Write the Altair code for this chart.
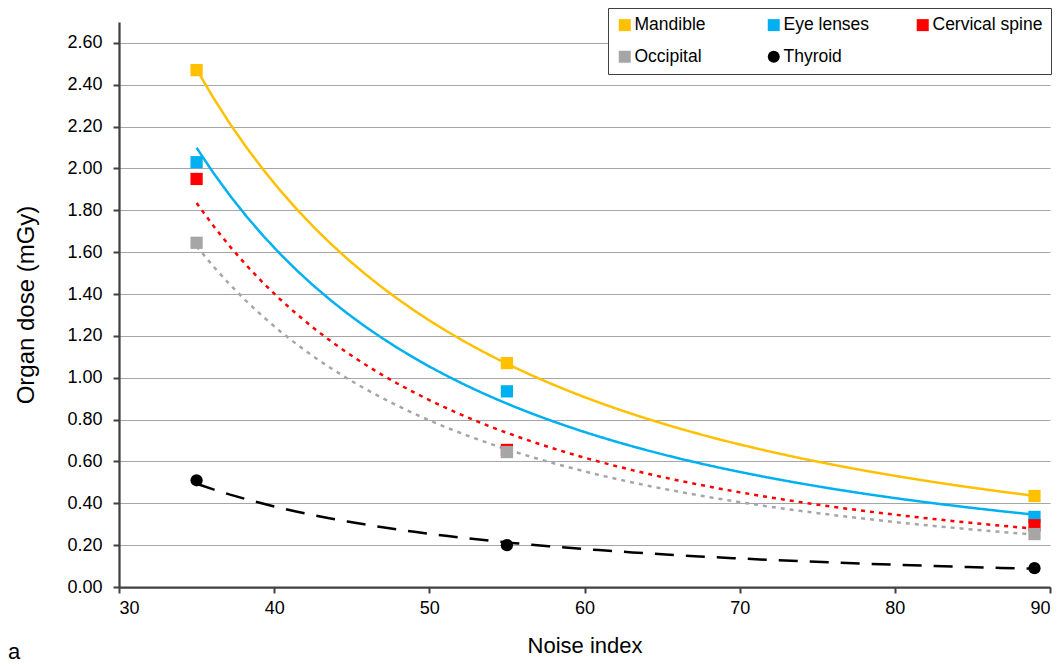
import altair as alt
import pandas as pd

noise = [35, 55, 89]
organs = ["Mandible", "Eye lenses", "Cervical spine", "Occipital", "Thyroid"]
mandible = [2.47, 1.07, 0.435]
eye_lenses = [2.03, 0.935, 0.335]
cervical = [1.95, 0.655, 0.295]
occipital = [1.645, 0.645, 0.253]
thyroid = [0.51, 0.20, 0.09]

colors = ["#FFC000", "#00B0F0", "#FF0000", "#A6A6A6", "#000000"]
shapes = ["square", "square", "square", "square", "circle"]
dashes = [[1, 0], [1, 0], [4, 5], [4, 5], [19, 12]]
y_ticks = [round(0.2 * i, 1) for i in range(14)]
x_ticks = [30, 40, 50, 60, 70, 80, 90]

rows = []
for name, vals in zip(organs, [mandible, eye_lenses, cervical, occipital, thyroid]):
    for xv, yv in zip(noise, vals):
        rows.append({"Organ": name, "x": xv, "y": yv})
df = pd.DataFrame(rows)

FONT = "Liberation Sans"

xs = alt.Scale(domain=[30, 90], nice=False, zero=False)
ys = alt.Scale(domain=[0, 2.7], nice=False)

x_axis = alt.Axis(values=x_ticks, title="Noise index", grid=False, labelFontSize=18,
                  titleFontSize=22, titleFontWeight="normal", titlePadding=18,
                  labelPadding=6, tickSize=6, labelFont=FONT, titleFont=FONT,
                  domainColor="#404040", tickColor="#404040", domainWidth=2.25, tickWidth=2,
                  labelColor="#000000", titleColor="#000000")
y_axis = alt.Axis(values=y_ticks, format=".2f", title="Organ dose (mGy)", grid=True,
                  gridColor="#A6A6A6", gridWidth=1, labelFontSize=18, titleFontSize=24,
                  titleFontWeight="normal", titlePadding=28, labelPadding=11, tickSize=6,
                  labelFont=FONT, titleFont=FONT, domainColor="#404040", tickColor="#404040",
                  domainWidth=2.25, tickWidth=2, labelColor="#000000", titleColor="#000000")

base = alt.Chart(df)

line_layers = []
for name, col, dash in zip(organs, colors, dashes):
    line_layers.append(
        base.transform_filter(alt.datum.Organ == name)
        .transform_regression("x", "y", method="pow")
        .mark_line(strokeWidth=2.5, color=col, strokeDash=dash)
        .encode(x=alt.X("x:Q", scale=xs, axis=x_axis),
                y=alt.Y("y:Q", scale=ys, axis=y_axis))
    )

leg = alt.Legend(title=None, orient="none", legendX=489, legendY=-14,
                 direction="horizontal", columns=3)

points = base.mark_point(filled=True, opacity=1, size=150).encode(
    x=alt.X("x:Q", scale=xs, axis=x_axis),
    y=alt.Y("y:Q", scale=ys, axis=y_axis),
    color=alt.Color("Organ:N", scale=alt.Scale(domain=organs, range=colors), legend=leg),
    shape=alt.Shape("Organ:N", scale=alt.Scale(domain=organs, range=shapes), legend=leg),
)

label = alt.Chart(pd.DataFrame({"t": ["a"]})).mark_text(
    fontSize=22, font=FONT, align="center", baseline="middle", color="#000000"
).encode(text="t:N", x=alt.value(-105), y=alt.value(630))

chart = alt.layer(*line_layers, points, label).properties(
    width=931, height=565,
    autosize=alt.AutoSizeParams(type="none"),
    padding={"left": 111, "top": 14, "right": 4, "bottom": 90},
).configure_view(stroke=None).configure_legend(
    gridAlign="all", columnPadding=20, rowPadding=13, padding=8,
    strokeColor="#404040", fillColor="#FFFFFF", symbolSize=144, symbolStrokeWidth=0,
    labelOffset=1, labelFontSize=17.5, labelFont=FONT, labelColor="#000000",
)

chart.save("out.html", embed_options={"renderer": "svg", "actions": False})
